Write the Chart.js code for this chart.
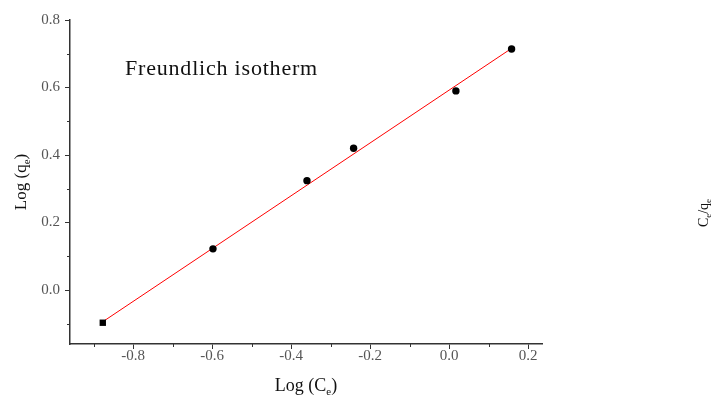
<!DOCTYPE html>
<html><head><meta charset="utf-8">
<script src="https://cdn.jsdelivr.net/npm/chart.js@4/dist/chart.umd.min.js"></script>
<style>html,body{margin:0;padding:0;background:#fff}#wrap{width:712px;height:396px}</style>
</head><body><div id="wrap"><canvas id="c" width="712" height="396"></canvas></div>
<script>
const logCe = [-0.877, -0.598, -0.360, -0.242, 0.017, 0.158];
const logQe = [-0.097, 0.122, 0.324, 0.420, 0.590, 0.714];
const fitX = [-0.877, 0.158];
const fitY = [-0.094, 0.716];
const xTicks = [-0.8, -0.6, -0.4, -0.2, 0.0, 0.2];
const yTicks = [0.0, 0.2, 0.4, 0.6, 0.8];
const xMinor = [-0.9, -0.7, -0.5, -0.3, -0.1, 0.1];
const yMinor = [-0.1, 0.1, 0.3, 0.5, 0.7];
const chartTitle = 'Freundlich isotherm';

const SERIF = '"Liberation Serif", "Times New Roman", serif';
const AX = '#333';

function drawSub(ctx, parts, cx, cy, size) {
  let total = 0;
  const ws = parts.map(p => {
    ctx.font = (p[1] ? Math.round(size*0.62) : size) + 'px ' + SERIF;
    const w = ctx.measureText(p[0]).width; total += w; return w;
  });
  let x = cx - total/2;
  parts.forEach((p, i) => {
    ctx.font = (p[1] ? Math.round(size*0.62) : size) + 'px ' + SERIF;
    ctx.fillText(p[0], x, cy + (p[1] ? size*0.22 : 0));
    x += ws[i];
  });
}

const textPlugin = {
  id: 'texts',
  afterDraw(chart) {
    const ctx = chart.ctx;
    const xs = chart.scales.x, ys = chart.scales.y;
    ctx.save();
    ctx.strokeStyle = AX; ctx.lineWidth = 1;
    ctx.beginPath();
    xMinor.forEach(v => { const px = Math.round(xs.getPixelForValue(v)) + 0.5; ctx.moveTo(px, xs.top); ctx.lineTo(px, xs.top + 3); });
    yMinor.forEach(v => { const py = Math.round(ys.getPixelForValue(v)) + 0.5; ctx.moveTo(ys.right, py); ctx.lineTo(ys.right - 3, py); });
    ctx.stroke();
    ctx.fillStyle = '#111';
    ctx.textBaseline = 'alphabetic';
    ctx.textAlign = 'left';
    ctx.save();
    ctx.font = '22px ' + SERIF;
    if ('letterSpacing' in ctx) ctx.letterSpacing = '0.8px';
    ctx.fillText(chartTitle, 125, 75);
    ctx.restore();
    drawSub(ctx, [['Log (C', false], ['e', true], [')', false]], (chart.chartArea.left + chart.chartArea.right)/2, 391, 18);
    ctx.save();
    ctx.translate(26, (chart.chartArea.top + chart.chartArea.bottom)/2);
    ctx.rotate(-Math.PI/2);
    drawSub(ctx, [['Log (q', false], ['e', true], [')', false]], 0, 0, 17);
    ctx.restore();
    ctx.save();
    ctx.translate(708, 213);
    ctx.rotate(-Math.PI/2);
    drawSub(ctx, [['C', false], ['e', true], ['/q', false], ['e', true]], 0, 0, 14);
    ctx.restore();
    ctx.restore();
  }
};

new Chart(document.getElementById('c'), {
  type: 'scatter',
  data: {
    datasets: [
      {
        label: 'fit',
        data: fitX.map((x, i) => ({x, y: fitY[i]})),
        showLine: true, borderColor: '#ff0000', borderWidth: 1,
        pointRadius: 0, order: 2
      },
      {
        label: 'data',
        data: logCe.map((x, i) => ({x, y: logQe[i]})),
        showLine: false,
        backgroundColor: '#000', borderColor: '#000', borderWidth: 0,
        pointStyle: ctx => ctx.dataIndex === 0 ? 'rect' : 'circle',
        pointRadius: ctx => ctx.dataIndex === 0 ? 4.5 : 3.7,
        order: 1
      }
    ]
  },
  plugins: [textPlugin],
  options: {
    responsive: false, animation: false,
    layout: { padding: { left: 0, right: 170, top: 20, bottom: 0 } },
    plugins: { legend: { display: false }, tooltip: { enabled: false } },
    scales: {
      x: {
        type: 'linear', min: -0.96, max: 0.235,
        afterBuildTicks: s => { s.ticks = xTicks.map(v => ({value: v})); },
        afterFit: s => { s.height = 52; },
        border: { display: true, color: AX, width: 1.5 },
        grid: { drawOnChartArea: false, drawTicks: true, tickLength: 5, color: AX, tickWidth: 1 },
        ticks: { color: '#555', font: { family: SERIF, size: 15 }, padding: -2,
          callback: v => v.toFixed(1) }
      },
      y: {
        type: 'linear', min: -0.16, max: 0.8,
        afterBuildTicks: s => { s.ticks = yTicks.map(v => ({value: v})); },
        afterFit: s => { s.width = 70; },
        border: { display: true, color: AX, width: 1.5 },
        grid: { drawOnChartArea: false, drawTicks: true, tickLength: 5, color: AX, tickWidth: 1 },
        ticks: { color: '#555', font: { family: SERIF, size: 15 }, padding: 5,
          callback: v => v.toFixed(1) }
      }
    }
  }
});
</script></body></html>
